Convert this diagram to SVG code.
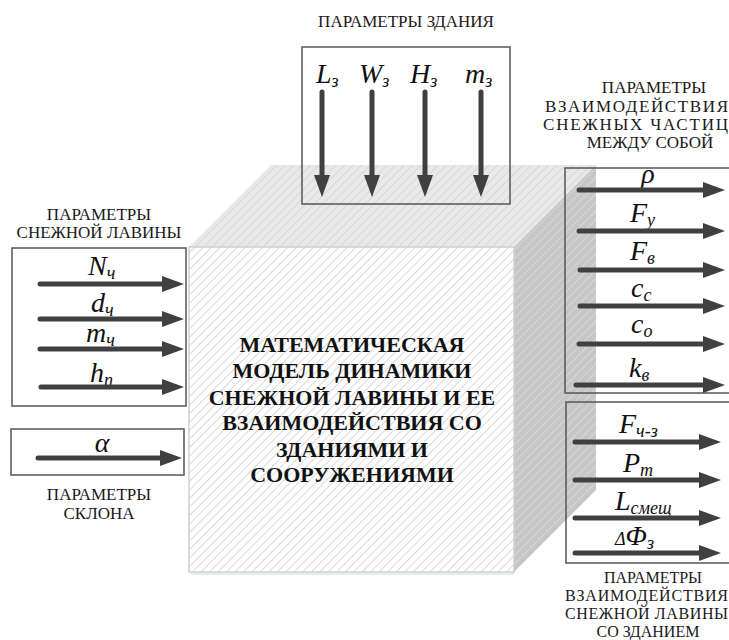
<svg xmlns="http://www.w3.org/2000/svg" width="729" height="640" viewBox="0 0 729 640">
  <style>
    .cap { font-family: "Liberation Serif", "Times New Roman", serif; font-size: 17px; fill: #1a1a1a; text-anchor: middle; }
    .capL { font-family: "Liberation Serif", "Times New Roman", serif; font-size: 17px; fill: #1a1a1a; }
    .small { font-size: 16px; }
    .core { font-family: "Liberation Serif", "Times New Roman", serif; font-size: 22px; font-weight: bold; fill: #111; text-anchor: middle; }
    .sym { font-family: "Liberation Serif", "Times New Roman", serif; font-style: italic; font-size: 28px; fill: #111; }
    .sub { font-size: 18px; }
    .panel { fill: none; stroke: #555; stroke-width: 1.5; }
    .arrow { stroke: #404040; stroke-width: 5; stroke-linecap: round; fill: none; marker-end: url(#head); }
  </style>
  <defs>
    <marker id="head" viewBox="0 0 22 16" refX="2" refY="8" markerWidth="22" markerHeight="16" markerUnits="userSpaceOnUse" orient="auto">
      <path d="M0,0 L22,8 L0,16 Z" fill="#404040"/>
    </marker>
    <pattern id="hatchFront" width="6" height="6" patternUnits="userSpaceOnUse" patternTransform="rotate(45)">
      <rect width="6" height="6" fill="#ffffff"/>
      <line x1="0" y1="0" x2="0" y2="6" stroke="#d9d9d9" stroke-width="2"/>
    </pattern>
    <pattern id="hatchTop" width="6" height="6" patternUnits="userSpaceOnUse" patternTransform="rotate(45)">
      <rect width="6" height="6" fill="#e9e9e9"/>
      <line x1="0" y1="0" x2="0" y2="6" stroke="#d6d6d6" stroke-width="2"/>
    </pattern>
    <pattern id="hatchSide" width="6" height="6" patternUnits="userSpaceOnUse" patternTransform="rotate(45)">
      <rect width="6" height="6" fill="#c6c6c6"/>
      <line x1="0" y1="0" x2="0" y2="6" stroke="#dedede" stroke-width="1.5"/>
    </pattern>
  </defs>

  <!-- central model block drawn as a box -->
  <g id="model">
    <polygon points="189,247 271,165 596,165 514,247" fill="url(#hatchTop)"/>
    <polygon points="514,247 596,165 596,490 514,572" fill="url(#hatchSide)"/>
    <rect x="189" y="247" width="325" height="325" fill="url(#hatchFront)" stroke="#cfcfcf" stroke-width="1.5"/>
    <line x1="191" y1="574" x2="514" y2="574" stroke="#e4ecf6" stroke-width="2"/>
    <text class="core" x="352" y="352">МАТЕМАТИЧЕСКАЯ</text>
    <text class="core" x="352" y="378">МОДЕЛЬ ДИНАМИКИ</text>
    <text class="core" x="352" y="405">СНЕЖНОЙ ЛАВИНЫ И ЕЕ</text>
    <text class="core" x="352" y="430">ВЗАИМОДЕЙСТВИЯ СО</text>
    <text class="core" x="352" y="457">ЗДАНИЯМИ И</text>
    <text class="core" x="352" y="482">СООРУЖЕНИЯМИ</text>
  </g>

  <!-- building parameters -->
  <g id="building">
    <text class="cap" x="406" y="27">ПАРАМЕТРЫ ЗДАНИЯ</text>
    <rect class="panel" x="302" y="47" width="208" height="157"/>
    <text class="sym" x="316" y="83">L<tspan class="sub" dy="4">з</tspan></text>
    <text class="sym" x="359" y="83">W<tspan class="sub" dy="4">з</tspan></text>
    <text class="sym" x="410" y="83">H<tspan class="sub" dy="4">з</tspan></text>
    <text class="sym" x="465" y="83">m<tspan class="sub" dy="4">з</tspan></text>
  </g>

  <!-- avalanche parameters -->
  <g id="avalanche">
    <text class="cap" x="99" y="220">ПАРАМЕТРЫ</text>
    <text class="cap" x="99" y="238">СНЕЖНОЙ ЛАВИНЫ</text>
    <rect class="panel" x="12" y="248" width="174" height="158"/>
    <text class="sym" x="88" y="275">N<tspan class="sub" dy="4">ч</tspan></text>
    <text class="sym" x="91" y="312">d<tspan class="sub" dy="4">ч</tspan></text>
    <text class="sym" x="86" y="342">m<tspan class="sub" dy="4">ч</tspan></text>
    <text class="sym" x="90" y="382">h<tspan class="sub" dy="4">n</tspan></text>
  </g>

  <!-- slope parameters -->
  <g id="slope">
    <rect class="panel" x="11" y="429" width="173" height="46"/>
    <text class="sym" x="102" y="452" text-anchor="middle">α</text>
    <text class="cap" x="99" y="500">ПАРАМЕТРЫ</text>
    <text class="cap" x="99" y="519">СКЛОНА</text>
  </g>

  <!-- particle interaction parameters -->
  <g id="particles">
    <text class="cap" x="654" y="93">ПАРАМЕТРЫ</text>
    <text class="capL" x="545" y="112" textLength="183" lengthAdjust="spacing">ВЗАИМОДЕЙСТВИЯ</text>
    <text class="capL" x="543" y="130" textLength="185" lengthAdjust="spacing">СНЕЖНЫХ ЧАСТИЦ</text>
    <text class="cap" x="650" y="148">МЕЖДУ СОБОЙ</text>
    <rect class="panel" x="565" y="168" width="166" height="225"/>
    <text class="sym" x="648" y="183" text-anchor="middle">ρ</text>
    <text class="sym" x="630" y="222">F<tspan class="sub" dy="4">y</tspan></text>
    <text class="sym" x="630" y="260">F<tspan class="sub" dy="4">в</tspan></text>
    <text class="sym" x="631" y="297">c<tspan class="sub" dy="4">c</tspan></text>
    <text class="sym" x="631" y="333">c<tspan class="sub" dy="4">o</tspan></text>
    <text class="sym" x="629" y="377">k<tspan class="sub" dy="4">в</tspan></text>
  </g>

  <!-- avalanche–building interaction parameters -->
  <g id="impact">
    <rect class="panel" x="566" y="402" width="165" height="161"/>
    <text class="sym" x="619" y="433">F<tspan class="sub" dy="4">ч-з</tspan></text>
    <text class="sym" x="623" y="472">P<tspan class="sub" dy="4">m</tspan></text>
    <text class="sym" x="615" y="510">L<tspan class="sub" dy="4">смещ</tspan></text>
    <text class="sym" x="615" y="545"><tspan class="sub">Δ</tspan>Φ<tspan class="sub" dy="4">з</tspan></text>
    <text class="cap small" x="653" y="583">ПАРАМЕТРЫ</text>
    <text class="capL small" x="565" y="601" textLength="163" lengthAdjust="spacing">ВЗАИМОДЕЙСТВИЯ</text>
    <text class="capL small" x="565" y="619" textLength="163" lengthAdjust="spacing">СНЕЖНОЙ ЛАВИНЫ</text>
    <text class="cap small" x="648" y="637">СО ЗДАНИЕМ</text>
  </g>

  <!-- connectors -->
  <g id="connectors">
    <line class="arrow" x1="322" y1="92" x2="322" y2="177"/>
    <line class="arrow" x1="372" y1="92" x2="372" y2="177"/>
    <line class="arrow" x1="425" y1="92" x2="425" y2="177"/>
    <line class="arrow" x1="481" y1="92" x2="481" y2="177"/>

    <line class="arrow" x1="40" y1="284" x2="164" y2="284"/>
    <line class="arrow" x1="40" y1="319" x2="164" y2="319"/>
    <line class="arrow" x1="40" y1="349" x2="164" y2="349"/>
    <line class="arrow" x1="41" y1="387" x2="164" y2="387"/>
    <line class="arrow" x1="38" y1="458" x2="162" y2="458"/>

    <line class="arrow" x1="579" y1="190" x2="705" y2="190"/>
    <line class="arrow" x1="579" y1="231" x2="705" y2="231"/>
    <line class="arrow" x1="580" y1="270" x2="705" y2="270"/>
    <line class="arrow" x1="580" y1="306" x2="705" y2="306"/>
    <line class="arrow" x1="579" y1="344" x2="705" y2="344"/>
    <line class="arrow" x1="576" y1="385" x2="705" y2="385"/>

    <line class="arrow" x1="575" y1="442" x2="701" y2="442"/>
    <line class="arrow" x1="575" y1="480" x2="701" y2="480"/>
    <line class="arrow" x1="575" y1="518" x2="701" y2="518"/>
    <line class="arrow" x1="575" y1="553" x2="701" y2="553"/>
  </g>
</svg>
